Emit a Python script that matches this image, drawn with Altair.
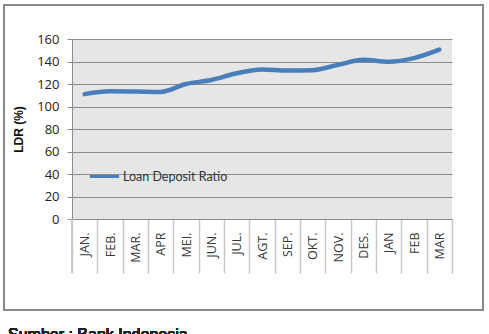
import altair as alt
import pandas as pd

# Monthly loan-to-deposit ratio
months = ["JAN.", "FEB.", "MAR.", "APR", "MEI.", "JUN.", "JUL.", "AGT.",
          "SEP.", "OKT.", "NOV.", "DES.", "JAN", "FEB", "MAR"]
ldr = [111, 113.5, 113.3, 113, 120, 123.5, 129.5, 133, 132, 132.3,
       137, 141.5, 139.8, 143, 150.5]
series = ["Loan Deposit Ratio"] * len(months)
y_ticks = [0, 20, 40, 60, 80, 100, 120, 140, 160]
source_note = "Sumber : Bank Indonesia"

df = pd.DataFrame({"bulan": months, "ldr": ldr, "seri": series})

W, H = 380, 180
TICK = 54
grid_col = "#8c8c8c"
line_col = "#4a7ebb"

base = alt.Chart(df)

line = base.mark_line(
    interpolate="monotone", strokeWidth=4.5, strokeCap="round", color=line_col
).encode(
    x=alt.X(
        "bulan:N", sort=months, title=None,
        scale=alt.Scale(paddingInner=0, paddingOuter=0),
        axis=alt.Axis(
            labelAngle=270, labelFont="Open Sans", labelFontSize=12.5,
            labelColor="#3a3a3a", labelPadding=13 - TICK, labelAlign="right",
            labelBaseline="middle",
            tickBand="extent", ticks=True, tickSize=TICK, tickColor="#c8c8c8",
            tickWidth=1.5, domainColor=grid_col, domainWidth=1.2, grid=False,
        ),
    ),
    y=alt.Y(
        "ldr:Q", title="LDR (%)",
        scale=alt.Scale(domain=[0, 160], nice=False),
        axis=alt.Axis(
            values=y_ticks, labelFont="Open Sans", labelFontSize=13,
            labelColor="#222222", labelPadding=8, tickSize=5,
            tickColor=grid_col, domainColor=grid_col, gridColor=grid_col,
            gridWidth=1.2, titleFont="Liberation Sans", titleFontSize=12,
            titleFontWeight="bold", titleColor="#111111", titlePadding=11,
        ),
    ),
    stroke=alt.Stroke(
        "seri:N", scale=alt.Scale(range=[line_col]),
        legend=alt.Legend(
            title=None, orient="none", legendX=16, legendY=121,
            symbolType="stroke", symbolStrokeWidth=3, symbolSize=850,
            labelFont="Lato", labelFontSize=12.5, labelColor="#333333",
            labelOffset=2, padding=0,
        ),
    ),
)

# Left edge line continuing below the category axis
left_edge = base.mark_rule(color="#c8c8c8", strokeWidth=1.5).encode(
    x=alt.value(0), y=alt.value(H), y2=alt.value(H + TICK)
)

# Outer frame around the chart
frame = base.mark_rect(
    fill=None, stroke="#8a8a8a", strokeWidth=1.5, clip=False
).encode(
    x=alt.value(-68), x2=alt.value(411), y=alt.value(-34), y2=alt.value(271)
)

note = base.mark_text(
    text=source_note, align="left", baseline="alphabetic",
    font="Liberation Sans", fontSize=16, fontWeight="normal", color="#222222",
).encode(x=alt.value(-64), y=alt.value(301))

chart = alt.layer(frame, left_edge, line, note).properties(
    width=W, height=H,
    padding={"left": 72, "top": 39, "right": 37, "bottom": 115},
    autosize=alt.AutoSizeParams(type="none"),
    background="white",
).configure_view(
    fill="#e6e6e6", stroke=None
)

chart.save("out.html", embed_options={"renderer": "svg", "actions": False})
